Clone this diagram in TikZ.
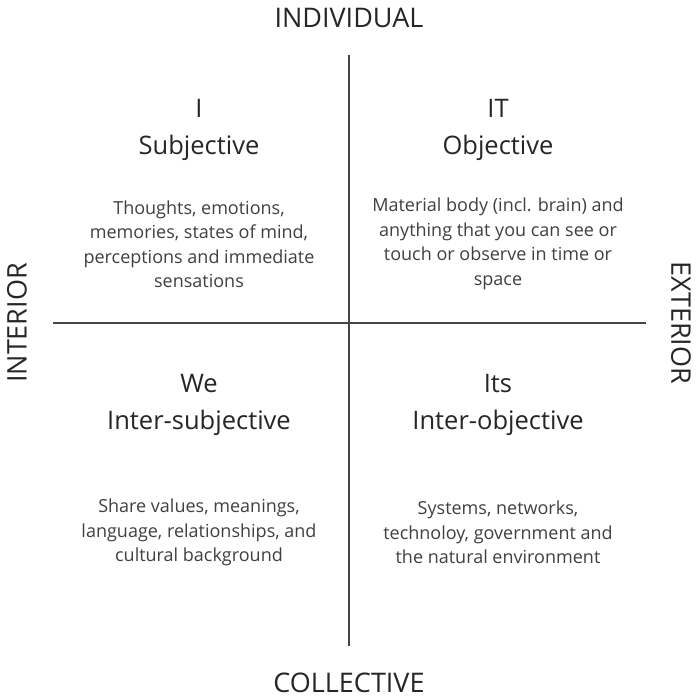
\documentclass[tikz,border=0pt]{standalone}
\usepackage{fontspec}
\setmainfont{Open Sans}
\begin{document}
\begin{tikzpicture}[x=1pt,y=-1pt,
  axis/.style={draw=axisgray,line width=2.6pt},
  head/.style={font=\fontsize{27}{30}\selectfont,text=black!85,inner sep=0pt},
  ttl/.style={font=\fontsize{25.5}{37}\selectfont,text=black!85,align=center,inner sep=0pt},
  desc/.style={font=\fontsize{18}{24.5}\selectfont,text=black!75,align=center,inner sep=0pt}]
\definecolor{axisgray}{HTML}{454545}
\useasboundingbox (0,0) rectangle (697,698);
\fill[white] (0,0) rectangle (697,698);
\coordinate (vt) at (349,55);
\coordinate (vb) at (349,646);
\coordinate (hl) at (53,323);
\coordinate (hr) at (646,323);
\draw[axis] (vt) -- (vb);
\draw[axis] (hl) -- (hr);
\node[head] (ind) at (349,18) {INDIVIDUAL};
\node[head] (col) at (349,683) {COLLECTIVE};
\node[head,rotate=90] (int) at (17,323) {INTERIOR};
\node[head,rotate=-90] (ext) at (681,323) {EXTERIOR};
\node[ttl] (t1) at (199,130) {I\\Subjective};
\node[ttl] (t2) at (498,130) {IT\\Objective};
\node[ttl] (t3) at (199,404.5) {We\\Inter-subjective};
\node[ttl] (t4) at (498,404.5) {Its\\Inter-objective};
\node[desc] (d1) at (199,244) {Thoughts, emotions,\\memories, states of mind,\\perceptions and immediate\\sensations};
\node[desc] (d2) at (498,244) {Material body (incl. brain) and\\anything that you can see or\\touch or observe in time or\\space};
\node[desc] (d3) at (199,532.5) {Share values, meanings,\\language, relationships, and\\cultural background};
\node[desc] (d4) at (498,532.5) {Systems, networks,\\technoloy, government and\\the natural environment};
\end{tikzpicture}
\end{document}
